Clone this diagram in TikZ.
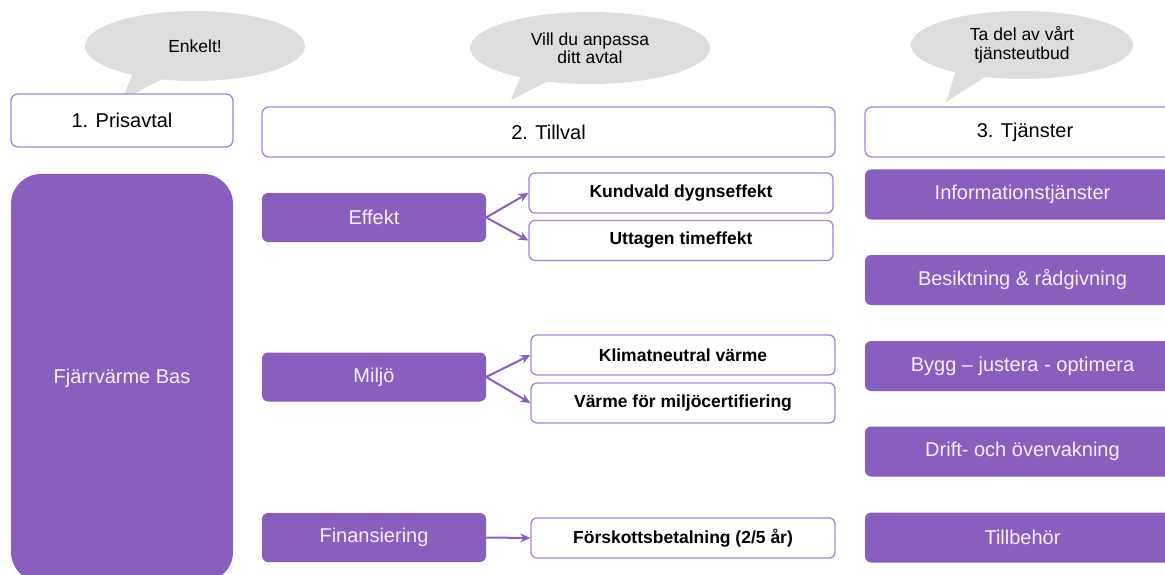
\documentclass[tikz,border=0pt]{standalone}
\usepackage{fontspec}
\setmainfont{Liberation Sans}
\usetikzlibrary{shapes.geometric, arrows.meta}
\definecolor{lilac}{HTML}{8A5EBF}
\definecolor{lilacline}{HTML}{A682D8}
\definecolor{bubblegray}{HTML}{DDDDDD}
\definecolor{paletext}{HTML}{F5F0FB}

\begin{document}
\begin{tikzpicture}[
    x = 1pt, y = -1pt,
    header/.style={draw=lilacline, line width=1.3pt, fill=white, rectangle, rounded corners=7pt, minimum height=50pt, font=\fontsize{20}{24}\selectfont},
    option/.style={draw=lilacline, line width=1.3pt, fill=white, rectangle, rounded corners=6pt, minimum width=304pt, minimum height=40pt, font=\bfseries\fontsize{17.5}{20}\selectfont},
    choice/.style={fill=lilac, rectangle, rounded corners=6pt, minimum width=224pt, minimum height=49pt, text=paletext, font=\fontsize{20}{24}\selectfont},
    service/.style={fill=lilac, rectangle, rounded corners=6pt, minimum width=315pt, minimum height=50pt, text=paletext, font=\fontsize{20}{24}\selectfont},
    bubble/.style={fill=bubblegray, ellipse, inner sep=0pt, align=center, font=\fontsize{17.5}{18.5}\selectfont},
    tail/.style={fill=bubblegray},
    arrow/.style={-{Stealth[length=10pt, width=9pt]}, line width=2pt, color=lilac}
]
    \clip (0, 0) rectangle (1165, 575);

    % Speech bubbles
    \coordinate (tip1) at (122, 100);
    \coordinate (tip2) at (511, 100);
    \coordinate (tip3) at (946, 102);
    \fill[tail] (135, 68) -- (tip1) -- (172, 74) -- cycle;
    \fill[tail] (524, 68) -- (tip2) -- (562, 74) -- cycle;
    \fill[tail] (958, 64) -- (tip3) -- (996, 70) -- cycle;
    \node (enkelt) at (195, 46) [bubble, minimum width=220pt, minimum height=70pt] {Enkelt!};
    \node (anpassa) at (590, 48) [bubble, minimum width=240pt, minimum height=72pt] {Vill du anpassa\\ditt avtal};
    \node (utbud) at (1022, 45) [bubble, minimum width=222pt, minimum height=68pt] {Ta del av vårt\\tjänsteutbud};

    % Headers
    \node (prisavtal) at (122, 120.5) [header, minimum width=222pt, minimum height=53pt] {1. Prisavtal};
    \node (tillval) at (548.5, 132) [header, minimum width=573pt] {2. Tillval};
    \node (tjanster) at (1025, 132) [header, minimum width=320pt] {3. Tjänster};

    % Base agreement
    \node (bas) at (122, 378) [choice, minimum height=408pt, rounded corners=30pt, minimum width=222pt] {Fjärrvärme Bas};

    % Add-ons
    \node (effekt) at (374, 217.5) [choice] {Effekt};
    \node (miljo) at (374, 377) [choice] {Miljö};
    \node (finans) at (374, 537.5) [choice] {Finansiering};

    \node (dygn) at (681, 193) [option] {Kundvald dygnseffekt};
    \node (timme) at (681, 240.5) [option] {Uttagen timeffekt};
    \node (klimat) at (683, 355) [option] {Klimatneutral värme};
    \node (certif) at (683, 403) [option] {Värme för miljöcertifiering};
    \node (forskott) at (683, 538) [option] {Förskottsbetalning (2/5 år)};

    % Services
    \node (info) at (1022.5, 194.5) [service] {Informationstjänster};
    \node (besikt) at (1022.5, 280) [service] {Besiktning \& rådgivning};
    \node (bygg) at (1022.5, 366) [service] {Bygg – justera - optimera};
    \node (drift) at (1022.5, 451.5) [service] {Drift- och övervakning};
    \node (tillbehor) at (1022.5, 537.5) [service] {Tillbehör};

    % Arrows
    \draw[arrow] (effekt.east) -- (dygn.west);
    \draw[arrow] (effekt.east) -- (timme.west);
    \draw[arrow] (miljo.east) -- (klimat.west);
    \draw[arrow] (miljo.east) -- (certif.west);
    \draw[arrow] (finans.east) -- (forskott.west);
\end{tikzpicture}
\end{document}
